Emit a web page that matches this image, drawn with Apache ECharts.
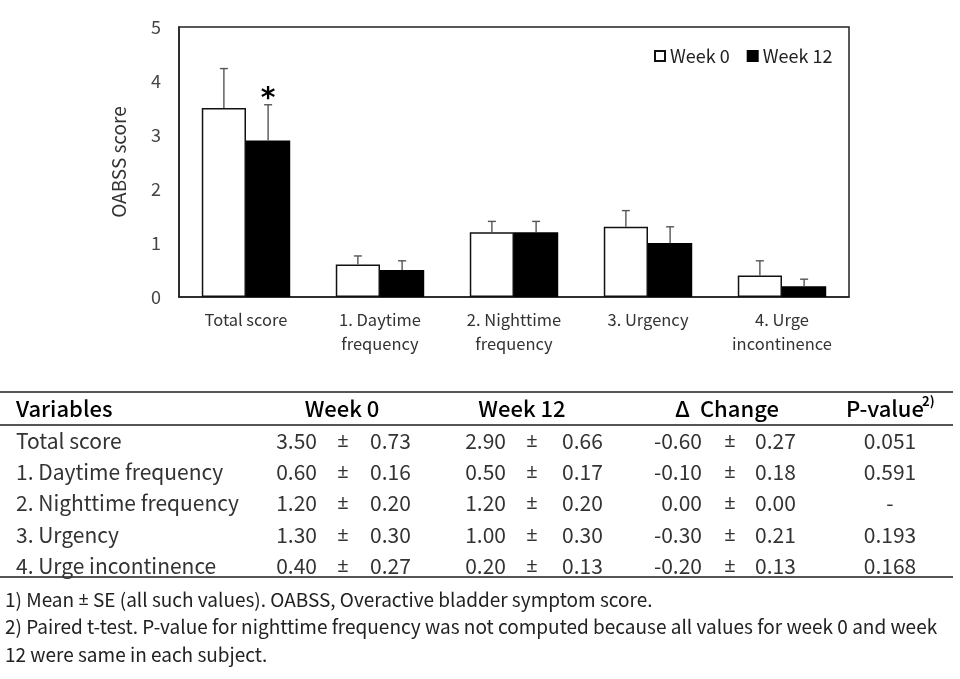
<!DOCTYPE html>
<html>
<head>
<meta charset="utf-8">
<script src="https://cdn.jsdelivr.net/npm/echarts@6/dist/echarts.min.js"></script>
<style>
html,body{margin:0;padding:0;background:#fff;}
#chart{width:960px;height:679px;}
</style>
</head>
<body>
<div id="chart"></div>
<script>
// ---- data ----
const chartCategories = ["Total score", "1. Daytime\nfrequency", "2. Nighttime\nfrequency", "3. Urgency", "4. Urge\nincontinence"];
const tableVariables = ["Total score", "1. Daytime frequency", "2. Nighttime frequency", "3. Urgency", "4. Urge incontinence"];
const week0Mean = [3.50, 0.60, 1.20, 1.30, 0.40];
const week0SE = [0.73, 0.16, 0.20, 0.30, 0.27];
const week12Mean = [2.90, 0.50, 1.20, 1.00, 0.20];
const week12SE = [0.66, 0.17, 0.20, 0.30, 0.13];
const changeMean = [-0.60, -0.10, 0.00, -0.30, -0.20];
const changeSE = [0.27, 0.18, 0.00, 0.21, 0.13];
const pValues = ["0.051", "0.591", "-", "0.193", "0.168"];
const week12Marks = ["*", "", "", "", ""];
const yTicks = [0, 1, 2, 3, 4, 5];
const seriesNames = ["Week 0", "Week 12"];
const tableHeaders = ["Variables", "Week 0", "Week 12", "\u0394  Change", "P-value"];
const footnotes = [
  "1) Mean {pm|\u00b1} SE (all such values). OABSS, Overactive bladder symptom score.",
  "2) Paired t-test. P-value for nighttime frequency was not computed because all values for week 0 and week",
  "12 were same in each subject."
];

// ---- layout constants ----
const FONT = '"Noto Sans CJK KR", "Noto Sans", sans-serif';
const PMFONT = '"Noto Sans", sans-serif';
const CAT_GAP = 0.34;

const chart = echarts.init(document.getElementById('chart'), null, {renderer: 'canvas'});

function errData(means, ses) {
  return means.map((m, i) => [i, m, ses[i]]);
}
function makeErrRender(side, marks) {
  return function (params, api) {
    const i = api.value(0), v = api.value(1), se = api.value(2);
    const mark = marks ? marks[params.dataIndex] : "";
    const band = api.size([1, 0])[0];
    const bw = band * (1 - CAT_GAP) / 2;
    const base = api.coord([i, v]);
    const top = api.coord([i, v + se]);
    const x = base[0] + side * bw / 2;
    const children = [];
    const st = {stroke: '#555', lineWidth: 1.4};
    if (se > 0) {
      children.push({type: 'line', shape: {x1: x, y1: base[1], x2: x, y2: top[1]}, style: st});
      children.push({type: 'line', shape: {x1: x - 4, y1: top[1], x2: x + 4, y2: top[1]}, style: st});
    }
    if (mark) {
      children.push({type: 'text', style: {text: mark, x: x, y: top[1] - 5, align: 'center', verticalAlign: 'middle', font: 'bold 28px "DejaVu Sans", sans-serif', fill: '#000'}});
    }
    return {type: 'group', children: children};
  };
}

// table graphics
const g = [];
const lineStyle = {stroke: '#555', lineWidth: 2};
[392, 425, 577].forEach(y => g.push({type: 'line', shape: {x1: 0, y1: y, x2: 953, y2: y}, style: lineStyle, silent: true}));
const hdrFont = '500 22px ' + FONT;
const hdrY = 409;
g.push({type: 'text', style: {text: tableHeaders[0], x: 16, y: hdrY, verticalAlign: 'middle', font: hdrFont, fill: '#000'}});
g.push({type: 'text', style: {text: tableHeaders[1], x: 342, y: hdrY, align: 'center', verticalAlign: 'middle', font: hdrFont, fill: '#000'}});
g.push({type: 'text', style: {text: tableHeaders[2], x: 522, y: hdrY, align: 'center', verticalAlign: 'middle', font: hdrFont, fill: '#000'}});
g.push({type: 'text', style: {text: tableHeaders[3], x: 727, y: hdrY, align: 'center', verticalAlign: 'middle', font: hdrFont, fill: '#000'}});
g.push({type: 'text', style: {text: tableHeaders[4], x: 885, y: hdrY, align: 'center', verticalAlign: 'middle', font: hdrFont, fill: '#000'}});
g.push({type: 'text', style: {text: '2)', x: 922, y: hdrY - 8, verticalAlign: 'middle', font: 'bold 13px ' + FONT, fill: '#000'}});

const rowFont = '21px ' + FONT;
const pmFont = '20px ' + PMFONT;
const rowCol = '#333';
const rowYs = [441, 472, 503, 535, 566];
const cols = [
  {means: week0Mean, ses: week0SE, mEnd: 317, pm: 343, sStart: 370},
  {means: week12Mean, ses: week12SE, mEnd: 506, pm: 532, sStart: 562},
  {means: changeMean, ses: changeSE, mEnd: 702, pm: 730, sStart: 755}
];
tableVariables.forEach((name, r) => {
  const y = rowYs[r];
  g.push({type: 'text', style: {text: name, x: 16, y: y, verticalAlign: 'middle', font: rowFont, fill: rowCol}});
  cols.forEach(c => {
    g.push({type: 'text', style: {text: c.means[r].toFixed(2), x: c.mEnd, y: y, align: 'right', verticalAlign: 'middle', font: rowFont, fill: rowCol}});
    g.push({type: 'text', style: {text: '\u00b1', x: c.pm, y: y, align: 'center', verticalAlign: 'middle', font: pmFont, fill: rowCol}});
    g.push({type: 'text', style: {text: c.ses[r].toFixed(2), x: c.sStart, y: y, align: 'left', verticalAlign: 'middle', font: rowFont, fill: rowCol}});
  });
  g.push({type: 'text', style: {text: pValues[r], x: 890, y: y, align: 'center', verticalAlign: 'middle', font: rowFont, fill: rowCol}});
});
const fnYs = [600, 627, 655];
footnotes.forEach((t, i) => g.push({type: 'text', style: {
  text: t, x: 5, y: fnYs[i], verticalAlign: 'middle', font: '19px ' + FONT, fill: '#222',
  rich: {pm: {fontFamily: PMFONT, fontSize: 18, fill: '#222'}}
}}));

chart.setOption({
  backgroundColor: '#fff',
  animation: false,
  textStyle: {fontFamily: FONT},
  grid: {left: 179, top: 27, width: 670, height: 270, show: true, borderColor: '#222', borderWidth: 1.5, backgroundColor: 'transparent'},
  legend: {
    data: seriesNames,
    left: 649, top: 42,
    icon: 'rect', itemWidth: 10, itemHeight: 10, itemGap: 17,
    textStyle: {fontSize: 18, color: '#222', fontFamily: FONT}
  },
  xAxis: {
    type: 'category', data: chartCategories,
    axisTick: {show: false},
    axisLine: {lineStyle: {color: '#222', width: 1.5}},
    axisLabel: {fontSize: 16.5, color: '#333', lineHeight: 24, margin: 11, interval: 0}
  },
  yAxis: {
    type: 'value', min: 0, max: 5, interval: 1,
    name: 'OABSS score', nameLocation: 'middle', nameRotate: 90, nameGap: 51,
    nameTextStyle: {fontSize: 19, color: '#333'},
    axisLine: {show: true, lineStyle: {color: '#222', width: 1.5}},
    axisTick: {show: false},
    splitLine: {show: false},
    axisLabel: {fontSize: 18, color: '#444', margin: 18, formatter: v => yTicks.includes(v) ? String(v) : ''}
  },
  series: [
    {name: seriesNames[0], type: 'bar', data: week0Mean, barGap: '0%', barCategoryGap: (CAT_GAP * 100) + '%',
      itemStyle: {color: '#fff', borderColor: '#111', borderWidth: 1.5}},
    {name: seriesNames[1], type: 'bar', data: week12Mean, barGap: '0%', barCategoryGap: (CAT_GAP * 100) + '%',
      itemStyle: {color: '#000', borderColor: '#000', borderWidth: 1.5}},
    {type: 'custom', name: 'err0', data: errData(week0Mean, week0SE), renderItem: makeErrRender(-1, null), z: 5,
      encode: {x: 0, y: 1}, silent: true},
    {type: 'custom', name: 'err12', data: errData(week12Mean, week12SE), renderItem: makeErrRender(1, week12Marks), z: 5,
      encode: {x: 0, y: 1}, silent: true}
  ],
  graphic: g
});
</script>
</body>
</html>
